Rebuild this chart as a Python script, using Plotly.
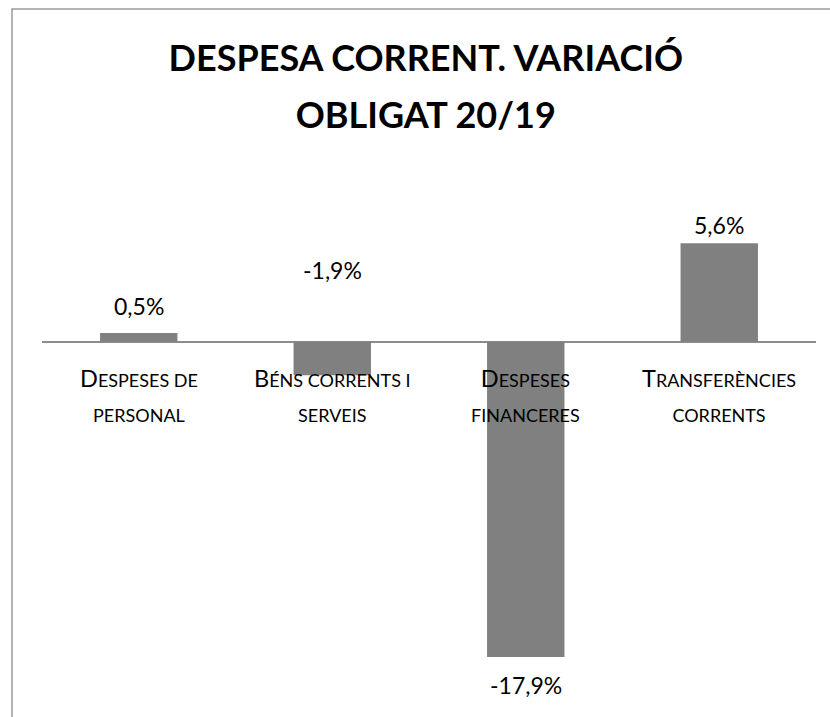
import plotly.graph_objects as go

categories = ["Despeses de personal", "Béns corrents i serveis", "Despeses financeres", "Transferències corrents"]
values = [0.5, -1.9, -17.9, 5.6]
value_labels = ["0,5%", "-1,9%", "-17,9%", "5,6%"]
# small-caps rendering: (first capital, rest of line 1, line 2)
cat_parts = [("D", "ESPESES DE", "PERSONAL"),
             ("B", "ÉNS CORRENTS I", "SERVEIS"),
             ("D", "ESPESES", "FINANCERES"),
             ("T", "RANSFERÈNCIES", "CORRENTS")]

FONT = "Lato"
W, H = 830, 717
L, R, T, B = 42, 14, 201, 23
pw, ph = W - L - R, H - T - B
y_range = [-20, 8]

fig = go.Figure()
fig.add_trace(go.Bar(x=categories, y=values, width=0.4,
                     marker=dict(color="#808080", line=dict(width=0)),
                     hoverinfo="skip"))

# value labels (label offsets in pixels, styling only)
label_anchor_y = [values[0], 0, values[2], values[3]]
label_shift = [27, 72, -28, 18]
for c, yv, lab, s in zip(categories, label_anchor_y, value_labels, label_shift):
    fig.add_annotation(x=c, y=yv, text=lab, showarrow=False, yanchor="middle",
                       yshift=s, font=dict(family=FONT, size=23, color="#000"))

# category labels next to the zero line
for c, (cap, rest, line2) in zip(categories, cat_parts):
    txt = (f"<span style='font-size:23.5px'>{cap}</span>"
           f"<span style='font-size:18px'>{rest}</span><br>"
           f"<span style='font-size:18px'>{line2}</span>")
    fig.add_annotation(x=c, y=0, text=txt, showarrow=False, yanchor="top",
                       yshift=-20, font=dict(family=FONT, size=27, color="#000"))

# outer frame
x0 = (12 - L) / pw
y0 = (H - B - 9) / ph
fig.add_shape(type="path", xref="paper", yref="paper",
              path=f"M {x0} {-0.1} L {x0} {y0} L 1.2 {y0}",
              line=dict(color="#9a9a9a", width=1.5))

fig.update_layout(
    width=W, height=H,
    margin=dict(l=L, r=R, t=T, b=B),
    paper_bgcolor="white", plot_bgcolor="white",
    showlegend=False,
    hovermode=False,
    title=dict(text="<span style='font-size:36px'><b>DESPESA CORRENT. VARIACIÓ</b></span><br>"
                    "<span style='font-size:36px'><b>OBLIGAT 20/19</b></span>",
               x=0.513, xanchor="center", xref="container",
               y=1 - 71 / H, yanchor="top", yref="container",
               font=dict(family=FONT, size=44, color="#000")),
    xaxis=dict(showticklabels=False, showgrid=False, showline=False, ticks="", fixedrange=True),
    yaxis=dict(range=y_range, showticklabels=False, showgrid=False, showline=False, ticks="",
               zeroline=True, zerolinecolor="#8c8c8c", zerolinewidth=1.5, fixedrange=True),
)

fig.write_html("out.html", config={"displayModeBar": False},
               post_script="document.body.style.margin='0';")
